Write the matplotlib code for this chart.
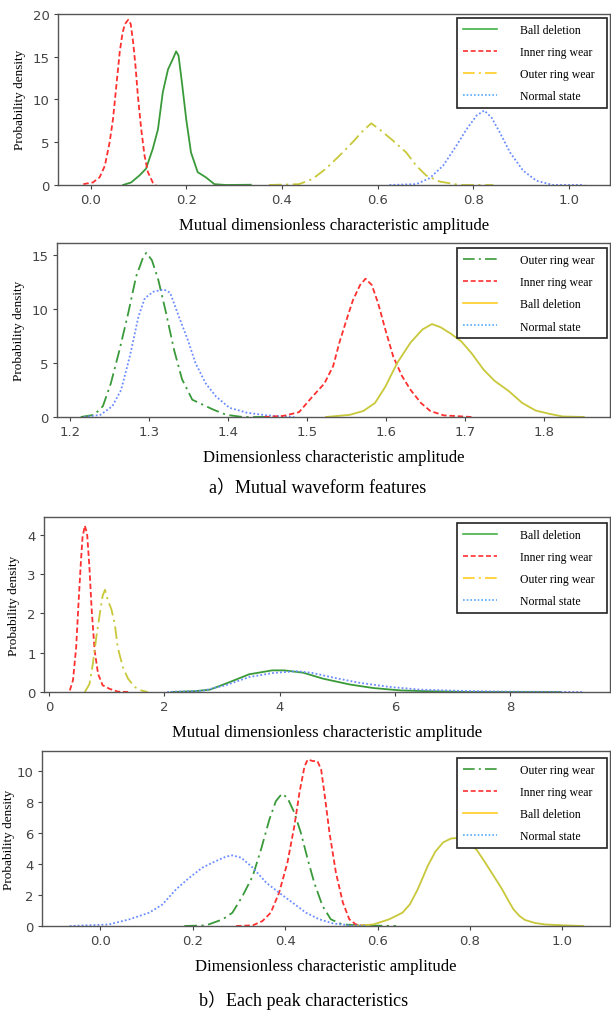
import matplotlib
matplotlib.use("Agg")
import matplotlib.pyplot as plt
from matplotlib.lines import Line2D

# ================= DATA =================
# panel 1: mutual dimensionless characteristic amplitude (waveform)
p1_ball_x = [0.068, 0.085, 0.102, 0.116, 0.130, 0.141, 0.151, 0.162, 0.172, 0.179, 0.184, 0.191, 0.200,
             0.210, 0.224, 0.241, 0.259, 0.283, 0.335]
p1_ball_y = [0.0, 0.3, 1.1, 1.9, 4.2, 6.5, 10.8, 13.5, 14.7, 15.6, 15.1, 12.0, 7.7,
             3.8, 1.5, 0.9, 0.1, 0.0, 0.03]
p1_inner_x = [-0.015, 0.005, 0.019, 0.030, 0.040, 0.047, 0.054, 0.061, 0.067, 0.072, 0.079, 0.084, 0.089,
              0.094, 0.099, 0.106, 0.113, 0.120, 0.130, 0.137]
p1_inner_y = [0.1, 0.3, 0.9, 2.25, 5.0, 7.7, 11.6, 15.5, 17.8, 18.8, 19.3, 18.8, 16.7,
              13.9, 10.4, 6.5, 3.4, 1.5, 0.3, 0.0]
p1_outer_x = [0.373, 0.436, 0.464, 0.492, 0.520, 0.548, 0.569, 0.587, 0.604, 0.632, 0.660, 0.681, 0.702,
              0.730, 0.772, 0.842]
p1_outer_y = [0.0, 0.1, 0.7, 1.9, 3.4, 5.0, 6.3, 7.2, 6.5, 5.2, 3.8, 2.25, 1.1,
              0.4, 0.0, 0.0]
p1_normal_x = [0.625, 0.681, 0.709, 0.737, 0.765, 0.786, 0.807, 0.823, 0.838, 0.856, 0.877, 0.904, 0.932,
               0.967, 1.032]
p1_normal_y = [0.0, 0.1, 0.8, 2.25, 4.6, 6.5, 8.1, 8.7, 7.9, 6.1, 3.8, 1.7, 0.5,
               0.0, 0.0]

# panel 2: dimensionless characteristic amplitude (waveform)
p2_outer_x = [1.214, 1.231, 1.242, 1.252, 1.263, 1.274, 1.284, 1.293, 1.297, 1.304, 1.312, 1.321, 1.332,
              1.342, 1.355, 1.368, 1.381, 1.398, 1.419, 1.449]
p2_outer_y = [0.0, 0.2, 1.0, 3.1, 6.2, 9.6, 13.0, 14.8, 15.2, 14.5, 12.7, 9.9, 6.2,
              3.5, 1.6, 1.15, 0.7, 0.2, 0.0, 0.0]
p2_normal_x = [1.218, 1.239, 1.254, 1.265, 1.276, 1.287, 1.295, 1.306, 1.319, 1.327, 1.338, 1.349, 1.359,
               1.372, 1.385, 1.402, 1.424, 1.449, 1.484]
p2_normal_y = [0.0, 0.2, 1.0, 2.5, 5.6, 9.3, 11.0, 11.6, 11.8, 11.5, 9.3, 7.2, 5.0,
               3.1, 1.9, 0.85, 0.4, 0.15, 0.0]
p2_inner_x = [1.446, 1.470, 1.490, 1.507, 1.522, 1.533, 1.541, 1.550, 1.558, 1.567, 1.574, 1.582, 1.590,
              1.599, 1.609, 1.620, 1.631, 1.644, 1.656, 1.673, 1.708]
p2_inner_y = [0.0, 0.1, 0.45, 1.9, 3.1, 4.7, 6.9, 9.0, 10.8, 12.2, 12.8, 12.2, 10.5,
              8.1, 5.6, 3.8, 2.5, 1.3, 0.55, 0.15, 0.0]
p2_ball_x = [1.524, 1.554, 1.571, 1.586, 1.599, 1.614, 1.631, 1.646, 1.658, 1.669, 1.682, 1.695, 1.708,
             1.723, 1.737, 1.755, 1.772, 1.789, 1.806, 1.823, 1.850]
p2_ball_y = [0.0, 0.2, 0.55, 1.3, 2.8, 5.0, 6.9, 8.1, 8.6, 8.3, 7.7, 7.0, 5.9,
             4.4, 3.35, 2.4, 1.3, 0.6, 0.3, 0.05, 0.0]

# panel 3: mutual dimensionless characteristic amplitude (peaks)
p3_ball_x = [2.12, 2.52, 2.79, 3.13, 3.47, 3.87, 4.08, 4.41, 4.75, 5.22, 5.63, 6.10, 6.57, 7.25, 8.87]
p3_ball_y = [0.0, 0.02, 0.06, 0.25, 0.45, 0.55, 0.55, 0.49, 0.34, 0.19, 0.10, 0.04, 0.02, 0.0, 0.0]
p3_inner_x = [0.36, 0.415, 0.47, 0.51, 0.55, 0.58, 0.62, 0.66, 0.70, 0.74, 0.79, 0.85, 0.93, 1.05, 1.19, 1.37]
p3_inner_y = [0.04, 0.3, 1.14, 2.24, 3.26, 3.93, 4.23, 4.02, 3.17, 2.07, 1.06, 0.46, 0.17, 0.08, 0.01, 0.0]
p3_outer_x = [0.62, 0.70, 0.76, 0.82, 0.88, 0.93, 0.97, 1.02, 1.08, 1.14, 1.19, 1.28, 1.37, 1.48, 1.60, 1.71]
p3_outer_y = [0.0, 0.2, 0.72, 1.40, 1.99, 2.45, 2.60, 2.33, 2.11, 1.73, 1.14, 0.63, 0.34, 0.13, 0.04, 0.0]
p3_normal_x = [2.05, 2.66, 3.06, 3.47, 3.87, 4.28, 4.55, 4.95, 5.36, 5.90, 6.44, 7.11, 7.92, 9.27]
p3_normal_y = [0.0, 0.03, 0.17, 0.38, 0.48, 0.53, 0.49, 0.36, 0.24, 0.13, 0.06, 0.03, 0.01, 0.0]

# panel 4: dimensionless characteristic amplitude (peaks)
p4_outer_x = [0.182, 0.229, 0.265, 0.286, 0.308, 0.330, 0.348, 0.366, 0.380, 0.393, 0.405, 0.420, 0.434,
              0.449, 0.463, 0.481, 0.499, 0.524, 0.568, 0.640]
p4_outer_y = [0.0, 0.04, 0.43, 0.86, 1.94, 3.23, 4.95, 6.88, 8.06, 8.54, 8.28, 7.32, 6.03,
              4.30, 2.80, 1.29, 0.43, 0.1, 0.04, 0.0]
p4_inner_x = [0.294, 0.330, 0.351, 0.369, 0.387, 0.405, 0.420, 0.431, 0.442, 0.449, 0.460, 0.470, 0.478,
              0.485, 0.496, 0.510, 0.525, 0.539, 0.553, 0.575]
p4_inner_y = [0.0, 0.04, 0.32, 0.86, 2.15, 4.09, 6.45, 8.6, 10.3, 10.75, 10.65, 10.65, 10.1,
              8.6, 6.03, 3.44, 1.51, 0.43, 0.1, 0.0]
p4_ball_x = [0.549, 0.591, 0.625, 0.654, 0.670, 0.687, 0.709, 0.725, 0.742, 0.759, 0.781, 0.795, 0.815,
             0.835, 0.852, 0.869, 0.882, 0.894, 0.907, 0.919, 0.940, 0.962, 1.003, 1.045]
p4_ball_y = [0.0, 0.1, 0.43, 0.86, 1.4, 2.37, 3.9, 4.8, 5.4, 5.65, 5.7, 5.45, 4.9,
             4.0, 3.2, 2.4, 1.7, 1.08, 0.65, 0.39, 0.2, 0.1, 0.04, 0.0]
p4_normal_x = [-0.066, 0.019, 0.063, 0.106, 0.135, 0.164, 0.193, 0.221, 0.250, 0.272, 0.286, 0.305, 0.330,
               0.359, 0.387, 0.416, 0.445, 0.474, 0.503, 0.539, 0.575]
p4_normal_y = [0.0, 0.1, 0.43, 0.86, 1.4, 2.37, 3.12, 3.77, 4.19, 4.48, 4.56, 4.41, 3.77,
               2.80, 2.15, 1.51, 0.86, 0.43, 0.17, 0.04, 0.0]

label_ball = "Ball deletion"
label_inner = "Inner ring wear"
label_outer = "Outer ring wear"
label_normal = "Normal state"

xlabel_mutual = "Mutual dimensionless characteristic amplitude"
xlabel_single = "Dimensionless characteristic amplitude"
caption_a = "a）Mutual waveform features"
caption_b = "b）Each peak characteristics"

# ================= STYLE =================
GREEN = "#3a9a3a"
RED = "#ff3030"
YELLOW = "#c8c83a"
BLUE = "#6a8cff"
LEG_GREEN = "#44b044"
LEG_YELLOW = "#ffcc22"
LEG_BLUE = "#55aaff"

DASHED = (0, (3, 1.6))
DASHDOT = (0, (7, 2.5, 1.2, 2.5))
DOTTED = (0, (1, 1.2))

SERIF = ["Liberation Serif", "Noto Sans CJK SC"]
TICK_COLOR = "#444444"
W, H = 611, 1012

fig = plt.figure(figsize=(W / 100, H / 100), dpi=100)


def px_axes(left, top, right, bottom):
    return fig.add_axes([left / W, 1 - bottom / H, (right - left) / W, (bottom - top) / H])


def style_axes(ax, xlim, ylim, xticks, yticks, xfmt, xlabel, ypad):
    ax.set_xlim(*xlim)
    ax.set_ylim(*ylim)
    ax.set_xticks(xticks)
    ax.set_xticklabels([xfmt.format(t) for t in xticks])
    ax.set_yticks(yticks)
    ax.set_yticklabels([str(t) for t in yticks])
    ax.tick_params(direction="out", length=3, width=0.8, colors=TICK_COLOR,
                   labelsize=9.5, labelcolor=TICK_COLOR, pad=3)
    for s in ax.spines.values():
        s.set_color("#555555")
        s.set_linewidth(1.0)
    ax.set_xlabel(xlabel, family=SERIF, fontsize=12, labelpad=8)
    ax.set_ylabel("Probability density", family=SERIF, fontsize=9.5, labelpad=ypad)


def add_legend(ax, entries, top_px):
    handles = [Line2D([], [], color=c, ls=ls, lw=1.2) for c, ls, _ in entries]
    labels = [lab for _, _, lab in entries]
    anchor = (457 / W, 1 - top_px / H - 0.1, 150 / W, 0.1)
    leg = ax.legend(handles, labels, loc="upper left", bbox_to_anchor=anchor,
                    bbox_transform=fig.transFigure, mode="expand",
                    prop={"family": SERIF, "size": 8.5}, frameon=True, fancybox=False,
                    edgecolor="#222222", framealpha=1, handlelength=2.9,
                    handletextpad=1.9, labelspacing=0.85, borderpad=0.5,
                    borderaxespad=0)
    leg.get_frame().set_linewidth(1.2)


# ---------- panel 1 ----------
ax1 = px_axes(58, 14.7, 610, 186)
ax1.plot(p1_ball_x, p1_ball_y, color=GREEN, lw=1.3)
ax1.plot(p1_inner_x, p1_inner_y, color=RED, lw=1.3, ls=DASHED)
ax1.plot(p1_outer_x, p1_outer_y, color=YELLOW, lw=1.3, ls=DASHDOT)
ax1.plot(p1_normal_x, p1_normal_y, color=BLUE, lw=1.3, ls=DOTTED)
style_axes(ax1, (-0.068, 1.086), (0, 20), [0.0, 0.2, 0.4, 0.6, 0.8, 1.0], [0, 5, 10, 15, 20],
           "{:.1f}", xlabel_mutual, 5)
add_legend(ax1, [(LEG_GREEN, "-", label_ball), (RED, DASHED, label_inner),
                 (LEG_YELLOW, DASHDOT, label_outer), (LEG_BLUE, DOTTED, label_normal)], 19)

# ---------- panel 2 ----------
ax2 = px_axes(57, 244, 610, 418)
ax2.plot(p2_outer_x, p2_outer_y, color=GREEN, lw=1.3, ls=DASHDOT)
ax2.plot(p2_normal_x, p2_normal_y, color=BLUE, lw=1.3, ls=DOTTED)
ax2.plot(p2_inner_x, p2_inner_y, color=RED, lw=1.3, ls=DASHED)
ax2.plot(p2_ball_x, p2_ball_y, color=YELLOW, lw=1.3)
style_axes(ax2, (1.184, 1.883), (0, 16.1), [1.2, 1.3, 1.4, 1.5, 1.6, 1.7, 1.8], [0, 5, 10, 15],
           "{:.1f}", xlabel_single, 5)
add_legend(ax2, [(GREEN, DASHDOT, label_outer), (RED, DASHED, label_inner),
                 (LEG_YELLOW, "-", label_ball), (LEG_BLUE, DOTTED, label_normal)], 249.5)

# ---------- panel 3 ----------
ax3 = px_axes(44, 518, 610, 693)
ax3.plot(p3_ball_x, p3_ball_y, color=GREEN, lw=1.3)
ax3.plot(p3_inner_x, p3_inner_y, color=RED, lw=1.3, ls=DASHED)
ax3.plot(p3_outer_x, p3_outer_y, color=YELLOW, lw=1.3, ls=DASHDOT)
ax3.plot(p3_normal_x, p3_normal_y, color=BLUE, lw=1.3, ls=DOTTED)
style_axes(ax3, (-0.088, 9.73), (0, 4.45), [0, 2, 4, 6, 8], [0, 1, 2, 3, 4],
           "{:d}", xlabel_mutual, 5)
add_legend(ax3, [(LEG_GREEN, "-", label_ball), (RED, DASHED, label_inner),
                 (LEG_YELLOW, DASHDOT, label_outer), (LEG_BLUE, DOTTED, label_normal)], 524)

# ---------- panel 4 ----------
ax4 = px_axes(42, 752, 610, 927)
ax4.plot(p4_outer_x, p4_outer_y, color=GREEN, lw=1.3, ls=DASHDOT)
ax4.plot(p4_inner_x, p4_inner_y, color=RED, lw=1.3, ls=DASHED)
ax4.plot(p4_ball_x, p4_ball_y, color=YELLOW, lw=1.3)
ax4.plot(p4_normal_x, p4_normal_y, color=BLUE, lw=1.3, ls=DOTTED)
style_axes(ax4, (-0.126, 1.103), (0, 11.3), [0.0, 0.2, 0.4, 0.6, 0.8, 1.0], [0, 2, 4, 6, 8, 10],
           "{:.1f}", xlabel_single, 1.5)
add_legend(ax4, [(GREEN, DASHDOT, label_outer), (RED, DASHED, label_inner),
                 (LEG_YELLOW, "-", label_ball), (LEG_BLUE, DOTTED, label_normal)], 759)

# ---------- captions ----------
fig.text(318 / W, 1 - 489 / H, caption_a, family=SERIF, fontsize=13, ha="center", va="center")
fig.text(304 / W, 1 - 1000 / H, caption_b, family=SERIF, fontsize=13, ha="center", va="center")

fig.savefig("out.png", dpi=100)
